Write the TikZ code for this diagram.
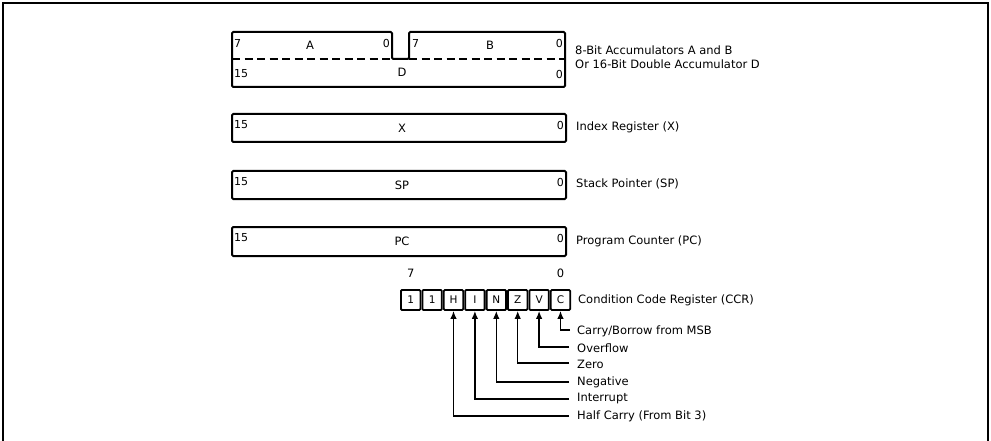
\documentclass[tikz,border=0pt]{standalone}
\usepackage{fontspec}
\setmainfont{DejaVu Sans}
\usetikzlibrary{arrows.meta}
\begin{document}
\begin{tikzpicture}[x=1pt,y=-1pt,
  regbox/.style={draw,line width=2pt,rounded corners=1.2pt},
  txt/.style={inner sep=0pt,font=\fontsize{11.5}{13}\selectfont},
  desc/.style={txt,anchor=west},
  bitl/.style={inner sep=0pt,font=\fontsize{11}{12}\selectfont,anchor=west},
  bitr/.style={inner sep=0pt,font=\fontsize{11}{12}\selectfont,anchor=east},
  cell/.style={draw,line width=1.8pt,rounded corners=1pt,minimum width=19.4pt,minimum height=20pt,inner sep=0pt,font=\fontsize{10.5}{11}\selectfont},
  arr/.style={line width=1.4pt,-{Latex[length=8pt,width=6.5pt]}}]
\useasboundingbox (0,0) rectangle (991,441);
% outer frame
\draw[line width=1.3pt] (3,441) -- (3,3) -- (988,3) -- (988,441);
% accumulators
\draw[regbox] (232,32) -- (392,32) -- (392,59) -- (409,59) -- (409,32) -- (565,32) -- (565,87) -- (232,87) -- cycle;
\draw[line width=1.4pt,dash pattern=on 8pt off 4.5pt] (232,59) -- (392,59);
\draw[line width=1.4pt,dash pattern=on 8pt off 4.5pt] (409,59) -- (565,59);
\node[bitl] (a7) at (234,43) {7};
\node[txt] (aA) at (310,45) {A};
\node[bitr] (a0) at (390,43) {0};
\node[bitl] (b7) at (412,43) {7};
\node[txt] (bB) at (490,45) {B};
\node[bitr] (b0) at (563,43) {0};
\node[bitl] (d15) at (234,74) {15};
\node[txt] (dD) at (402,72) {D};
\node[bitr] (d0) at (563,74) {0};
\node[desc] (accl1) at (575,50) {8-Bit Accumulators A and B};
\node[desc] (accl2) at (575,64) {Or 16-Bit Double Accumulator D};
% X
\draw[regbox] (232,114) rectangle (566,142);
\node[bitl] (x15) at (234,125) {15};
\node[txt] (xX) at (402,128) {X};
\node[bitr] (x0) at (564,125) {0};
\node[desc] (xl) at (576,127) {Index Register (X)};
% SP
\draw[regbox] (232,171) rectangle (566,199);
\node[bitl] (s15) at (234,182) {15};
\node[txt] (sS) at (402,185) {SP};
\node[bitr] (s0) at (564,182) {0};
\node[desc] (sl) at (576,184) {Stack Pointer (SP)};
% PC
\draw[regbox] (232,227) rectangle (566,256);
\node[bitl] (p15) at (234,238) {15};
\node[txt] (pP) at (402,241) {PC};
\node[bitr] (p0) at (564,238) {0};
\node[desc] (pl) at (576,241) {Program Counter (PC)};
% CCR
\node[txt] (c7) at (410.7,273) {7};
\node[txt] (c0) at (560.5,273) {0};
\node[cell] (k1) at (410.7,300) {1};
\node[cell] (k2) at (432.1,300) {1};
\node[cell] (kH) at (453.5,300) {H};
\node[cell] (kI) at (474.9,300) {I};
\node[cell] (kN) at (496.3,300) {N};
\node[cell] (kZ) at (517.7,300) {Z};
\node[cell] (kV) at (539.1,300) {V};
\node[cell] (kC) at (560.5,300) {C};
\node[desc] (ccrl) at (578,300) {Condition Code Register (CCR)};
% flag labels
\node[desc] (lC) at (577,331) {Carry/Borrow from MSB};
\node[desc] (lV) at (577,348) {Overflow};
\node[desc] (lZ) at (577,364) {Zero};
\node[desc] (lN) at (577,382) {Negative};
\node[desc] (lI) at (577,399) {Interrupt};
\node[desc] (lH) at (577,416) {Half Carry (From Bit 3)};
\coordinate (eC) at (570,330);
\coordinate (eV) at (569,347);
\coordinate (eZ) at (569,363);
\coordinate (eN) at (569,382);
\coordinate (eI) at (569,399);
\coordinate (eH) at (569,416);
\draw[arr] (eC) -| (kC.south);
\draw[arr] (eV) -| (kV.south);
\draw[arr] (eZ) -| (kZ.south);
\draw[arr] (eN) -| (kN.south);
\draw[arr] (eI) -| (kI.south);
\draw[arr] (eH) -| (kH.south);
\end{tikzpicture}
\end{document}
